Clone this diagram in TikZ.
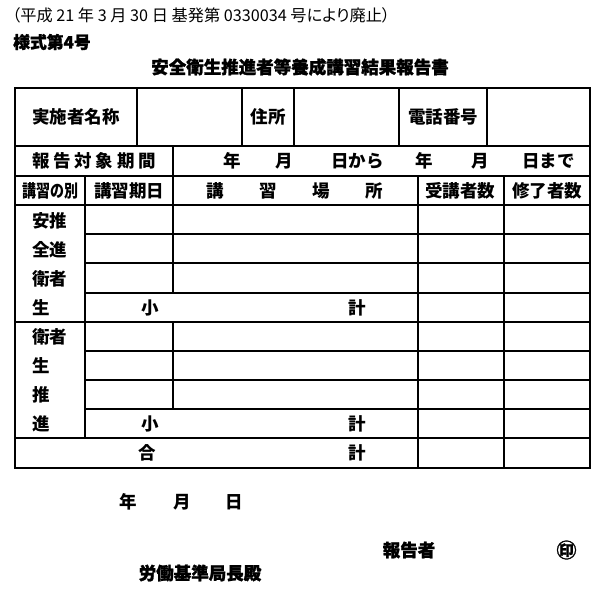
\documentclass[tikz,border=0pt]{standalone}
\usepackage{fontspec}
\setmainfont{Noto Sans CJK JP}[BoldFeatures={FakeBold=1.4}]
\newfontfamily\jpnarrow{Noto Sans CJK JP}[RawFeature=+palt]
\newfontfamily\jpcell{Noto Sans CJK JP}
\usepackage{graphicx}
\usepackage{tikz}
\usetikzlibrary{positioning}

\begin{document}
\begin{tikzpicture}[
    x=1pt, y=-1pt,
    rule/.style={line width=1.5pt},
    cell/.style={inner sep=0pt, font=\jpcell\fontsize{17.5}{20}\selectfont\bfseries},
    heading/.style={inner sep=0pt, font=\fontsize{17.5}{20}\selectfont\bfseries},
    ]
    \useasboundingbox (0,0) rectangle (609,609);

    % Notes above the form
    \node[anchor=west, inner sep=0pt, font=\jpnarrow\fontsize{16.2}{18}\selectfont] (note) at (12,15) {（平成 21 年 3 月 30 日 基発第 0330034 号により廃止）};
    \node[heading, anchor=west, font=\fontsize{16.8}{19}\selectfont\bfseries] (form) at (13,42) {様式第4号};
    \node[heading] (title) at (300,67) {安全衛生推進者等養成講習結果報告書};

    % Table frame and rules
    \draw[rule] (15,88) rectangle (590,468);
    \draw[rule] (15,146) -- (590,146);
    \draw[rule] (15,176) -- (590,176);
    \draw[rule] (15,205) -- (590,205);
    \draw[rule] (15,322) -- (590,322);
    \draw[rule] (15,438) -- (590,438);
    \draw[rule] (85,234) -- (590,234);
    \draw[rule] (85,263) -- (590,263);
    \draw[rule] (85,293) -- (590,293);
    \draw[rule] (85,351) -- (590,351);
    \draw[rule] (85,380) -- (590,380);
    \draw[rule] (85,409) -- (590,409);
    \draw[rule] (137,88) -- (137,146);
    \draw[rule] (242,88) -- (242,146);
    \draw[rule] (294,88) -- (294,146);
    \draw[rule] (399,88) -- (399,146);
    \draw[rule] (487,88) -- (487,146);
    \draw[rule] (173,146) -- (173,176);
    \draw[rule] (85,176) -- (85,438);
    \draw[rule] (173,176) -- (173,293);
    \draw[rule] (173,322) -- (173,409);
    \draw[rule] (418,176) -- (418,468);
    \draw[rule] (504,176) -- (504,468);

    % First row
    \node[cell] (name) at (76,117) {実施者名称};
    \node[cell] (addr) at (268,117) {住所};
    \node[cell] (tel) at (443,117) {電話番号};

    % Period row
    \node[cell] (period) at (94,161) {報\hspace{3.7pt}告\hspace{3.7pt}対\hspace{3.7pt}象\hspace{3.7pt}期\hspace{3.7pt}間};
    \node[cell] (y1) at (232,161) {年};
    \node[cell] (m1) at (284,161) {月};
    \node[cell, anchor=west] (d1) at (331,161) {日から};
    \node[cell] (y2) at (424,161) {年};
    \node[cell] (m2) at (480,161) {月};
    \node[cell, anchor=west] (d2) at (522,161) {日まで};

    % Column heads
    \node[cell] (kind) at (50,190.5) {\scalebox{0.8}[1]{講習の別}};
    \node[cell] (date) at (129,190.5) {講習期日};
    \node[cell] (place) at (294.5,190.5) {講\hspace{35.5pt}習\hspace{35.5pt}場\hspace{35.5pt}所};
    \node[cell] (recv) at (460,190.5) {受講者数};
    \node[cell] (done) at (547,190.5) {修了者数};

    % Left column
    \node[cell, anchor=west] (a1) at (32,220.5) {安推};
    \node[cell, anchor=west] (a2) at (32,249.5) {全進};
    \node[cell, anchor=west] (a3) at (32,278.5) {衛者};
    \node[cell, anchor=west] (a4) at (32,308) {生};
    \node[cell, anchor=west] (b1) at (32,337) {衛者};
    \node[cell, anchor=west] (b2) at (32,366) {生};
    \node[cell, anchor=west] (b3) at (32,395) {推};
    \node[cell, anchor=west] (b4) at (32,424) {進};

    % Totals
    \node[cell] (sa) at (150,308) {小};
    \node[cell] (ka) at (357,308) {計};
    \node[cell] (sb) at (150,424) {小};
    \node[cell] (kb) at (357,424) {計};
    \node[cell] (gs) at (147,453) {合};
    \node[cell] (gk) at (357,453) {計};

    % Below the form
    \node[cell] (year) at (128,502) {年};
    \node[cell] (month) at (182,502) {月};
    \node[cell] (day) at (234,502) {日};
    \node[heading] (rep) at (409,550) {報告者};
    \node[heading, font=\fontsize{20}{22}\selectfont\bfseries] (seal) at (566.5,550) {㊞};
    \node[heading] (chief) at (200,573) {労働基準局長殿};
\end{tikzpicture}
\end{document}
